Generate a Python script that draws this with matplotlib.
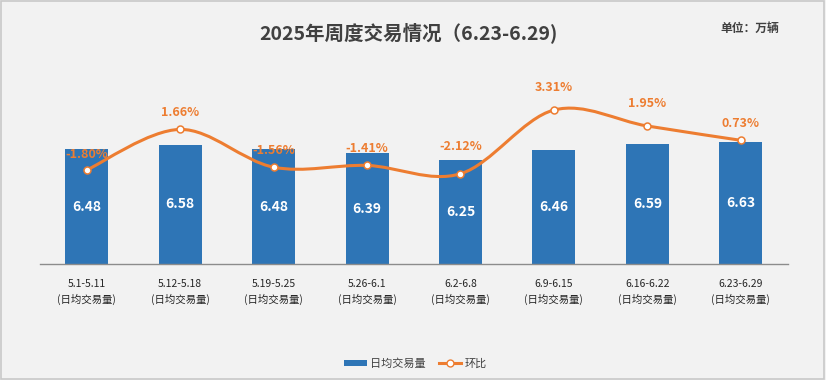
import matplotlib
matplotlib.use("Agg")
import matplotlib.pyplot as plt
from matplotlib.path import Path
from matplotlib.patches import PathPatch, Patch, Rectangle
from matplotlib.lines import Line2D

plt.rcParams['font.family'] = ['Noto Sans CJK SC', 'DejaVu Sans']

# data
weeks = ['5.1-5.11', '5.12-5.18', '5.19-5.25', '5.26-6.1',
         '6.2-6.8', '6.9-6.15', '6.16-6.22', '6.23-6.29']
daily_volume = [6.48, 6.58, 6.48, 6.39, 6.25, 6.46, 6.59, 6.63]
wow_change = [-1.80, 1.66, -1.56, -1.41, -2.12, 3.31, 1.95, 0.73]

# label offsets above the line points (points), as placed in the original
label_offsets = [11.5, 12, 12, 12, 19.5, 16.5, 16.5, 12]

bar_color = '#2E75B6'
line_color = '#ED7D31'
bg = '#F2F2F2'

fig = plt.figure(figsize=(8.26, 3.8), dpi=100, facecolor=bg)
ax = fig.add_axes([0.0484, 0.304, 0.905, 0.4895])
ax.set_facecolor(bg)

x = list(range(len(weeks)))
ax.bar(x, daily_volume, width=0.46, color=bar_color, bottom=0, zorder=2)
ax.set_ylim(4, 8)
ax.set_xlim(-0.5, len(weeks) - 0.5)

for xi, v in zip(x, daily_volume):
    ax.text(xi, (4 + v) / 2, f'{v:.2f}', ha='center', va='center',
            color='white', fontsize=10, fontweight='bold', zorder=3)

ax.set_xticks(x)
ax.set_xticklabels([w + '\n(日均交易量)' for w in weeks], fontsize=7.5,
                   color='#262626', linespacing=1.5)
ax.tick_params(axis='x', length=0, pad=10.5)
ax.set_yticks([])
for s in ['top', 'left', 'right']:
    ax.spines[s].set_visible(False)
ax.spines['bottom'].set_color('#8c8c8c')
ax.spines['bottom'].set_linewidth(1.0)

# secondary axis for the week-on-week change
ax2 = ax.twinx()
ax2.set_ylim(-9.85, 6.0)
ax2.set_yticks([])
for s in ax2.spines.values():
    s.set_visible(False)


def smooth_path(xs, ys):
    # Catmull-Rom style cubic bezier through the points
    pts = list(zip(xs, ys))
    verts = [pts[0]]
    codes = [Path.MOVETO]
    n = len(pts)
    for i in range(n - 1):
        p0 = pts[i - 1] if i > 0 else pts[i]
        p1 = pts[i]
        p2 = pts[i + 1]
        p3 = pts[i + 2] if i + 2 < n else pts[i + 1]
        c1 = (p1[0] + (p2[0] - p0[0]) / 6, p1[1] + (p2[1] - p0[1]) / 6)
        c2 = (p2[0] - (p3[0] - p1[0]) / 6, p2[1] - (p3[1] - p1[1]) / 6)
        verts += [c1, c2, p2]
        codes += [Path.CURVE4] * 3
    return Path(verts, codes)


ax2.add_patch(PathPatch(smooth_path(x, wow_change), facecolor='none',
                        edgecolor=line_color, lw=2.2, zorder=4))
ax2.plot(x, wow_change, linestyle='none', marker='o', markersize=5,
         markerfacecolor='white', markeredgecolor=line_color,
         markeredgewidth=1.1, zorder=5)

for xi, c, off in zip(x, wow_change, label_offsets):
    ax2.annotate(f'{c:.2f}%', (xi, c), xytext=(0, off),
                 textcoords='offset points', ha='center', va='center',
                 color=line_color, fontsize=9, fontweight='bold', zorder=6)

fig.text(0.494, 0.915, '2025年周度交易情况（6.23-6.29)', ha='center',
         va='center', fontsize=14, fontweight='bold', color='#404040')
fig.text(0.908, 0.925, '单位：万辆', ha='center', va='center', fontsize=8.5,
         fontweight='bold', color='#404040')

handles = [Patch(facecolor=bar_color, edgecolor='none'),
           Line2D([0], [0], color=line_color, lw=2.2, marker='o',
                  markersize=5, markerfacecolor='white',
                  markeredgecolor=line_color)]
fig.legend(handles, ['日均交易量', '环比'], loc='center',
           bbox_to_anchor=(0.503, 0.043), ncol=2, frameon=False,
           fontsize=8, handlelength=2.0, handleheight=0.5,
           columnspacing=1.2, handletextpad=0.3,
           labelcolor='#404040')

fig.patches.append(Rectangle((0.001, 0.002), 0.997, 0.995,
                             transform=fig.transFigure, fill=False,
                             edgecolor='#c8c8c8', lw=1.2))

fig.savefig('out.png', dpi=100, facecolor=bg)
